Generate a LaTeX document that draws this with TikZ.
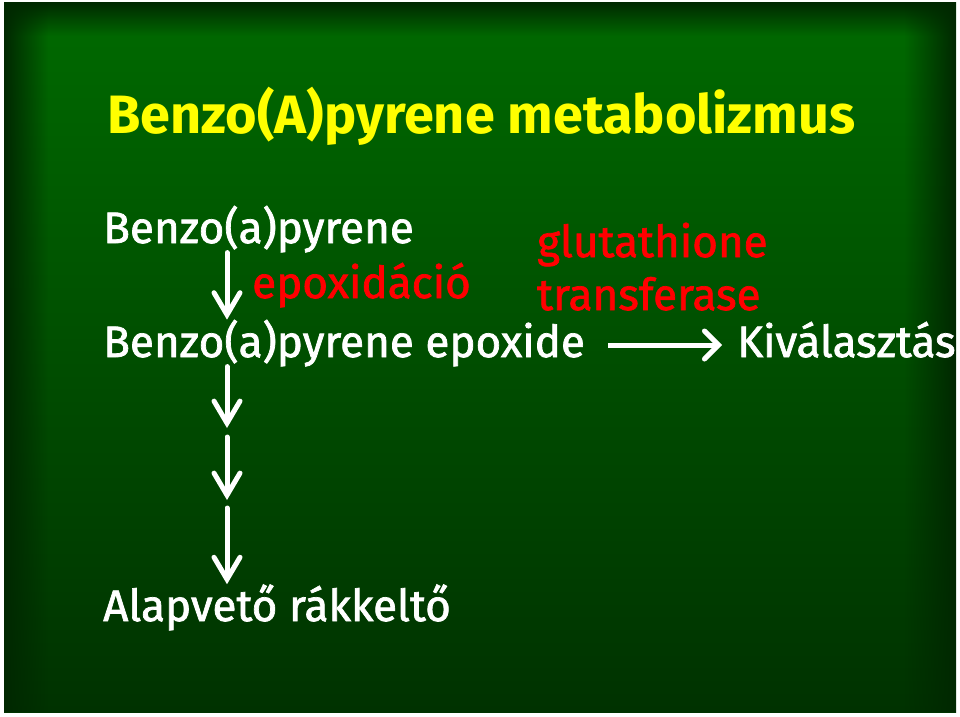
\documentclass[tikz,border=0pt]{standalone}
\usepackage{fontspec}
\setmainfont{Fira Sans}
\newfontface\slidefont{Fira Sans}[FakeBold=1.6]
\usetikzlibrary{arrows.meta,fadings}

\definecolor{slidetop}{RGB}{0,106,0}
\definecolor{slidebot}{RGB}{0,50,0}
\definecolor{slideedge}{RGB}{0,40,0}
\definecolor{titleyellow}{RGB}{255,255,0}
\definecolor{enzymered}{RGB}{255,0,0}

\tikzfading[name=fade down, top color=transparent!0, bottom color=transparent!100]
\tikzfading[name=fade right, left color=transparent!0, right color=transparent!100]
\tikzfading[name=fade left, left color=transparent!100, right color=transparent!0]

\tikzset{
  compound/.style={text=white, inner sep=0pt, anchor=base west, font=\fontsize{44}{50}\slidefont},
  enzyme/.style={text=enzymered, inner sep=0pt, anchor=base west, font=\fontsize{44}{50}\slidefont},
  downstep/.style={white, line width=5pt, line cap=round, -{Straight Barb[length=22pt,width=26pt,line cap=round]}},
  sidestep/.style={white, line width=5pt, -{Straight Barb[length=14pt,width=28pt,line cap=round]}}
}

\begin{document}
\begin{tikzpicture}[x=1pt,y=-1pt]

	\useasboundingbox (0,0) rectangle (960,716);
	\clip (0,0) rectangle (960,716);

	% slide background
	\fill[white] (0,0) rectangle (960,716);
	\shade[top color=slidetop, bottom color=slidebot] (4,2) rectangle (956,712);
	\fill[slideedge, path fading=fade down] (4,2) rectangle (956,36);
	\fill[slideedge, path fading=fade right] (4,2) rectangle (48,712);
	\fill[slideedge, path fading=fade left] (904,2) rectangle (956,712);

	% title
	\node[text=titleyellow, inner sep=0pt, anchor=base west, font=\fontsize{54}{60}\bfseries] (title) at (107,133) {Benzo(A)pyrene metabolizmus};

	% compounds
	\node[compound] (bap) at (103,243) {Benzo(a)pyrene};
	\node[compound] (bapepo) at (103,357) {Benzo(a)pyrene epoxide};
	\node[compound] (excr) at (737,357) {Kiválasztás};
	\node[compound] (carc) at (103,621) {Alapvető rákkeltő};

	% enzymes
	\node[enzyme] (epox) at (252,298) {epoxidáció};
	\node[enzyme] (gst1) at (537,257) {glutathione};
	\node[enzyme] (gst2) at (537,310) {transferase};

	% arrow axis, arrow row and breaks
	\coordinate (axis) at (227,0);
	\coordinate (row) at (0,345);
	\coordinate (k1) at (227,428);
	\coordinate (k2) at (227,437);
	\coordinate (k3) at (227,500);
	\coordinate (k4) at (227,508);

	\draw[downstep] (bap.south -| axis) -- (bapepo.north -| axis);
	\draw[downstep] (bapepo.south -| axis) -- (k1);
	\draw[downstep] (k2) -- (k3);
	\draw[downstep] (k4) -- (carc.north -| axis);

	\draw[sidestep, shorten <=23pt, shorten >=15pt] (bapepo.east |- row) -- (excr.west |- row);

\end{tikzpicture}
\end{document}
